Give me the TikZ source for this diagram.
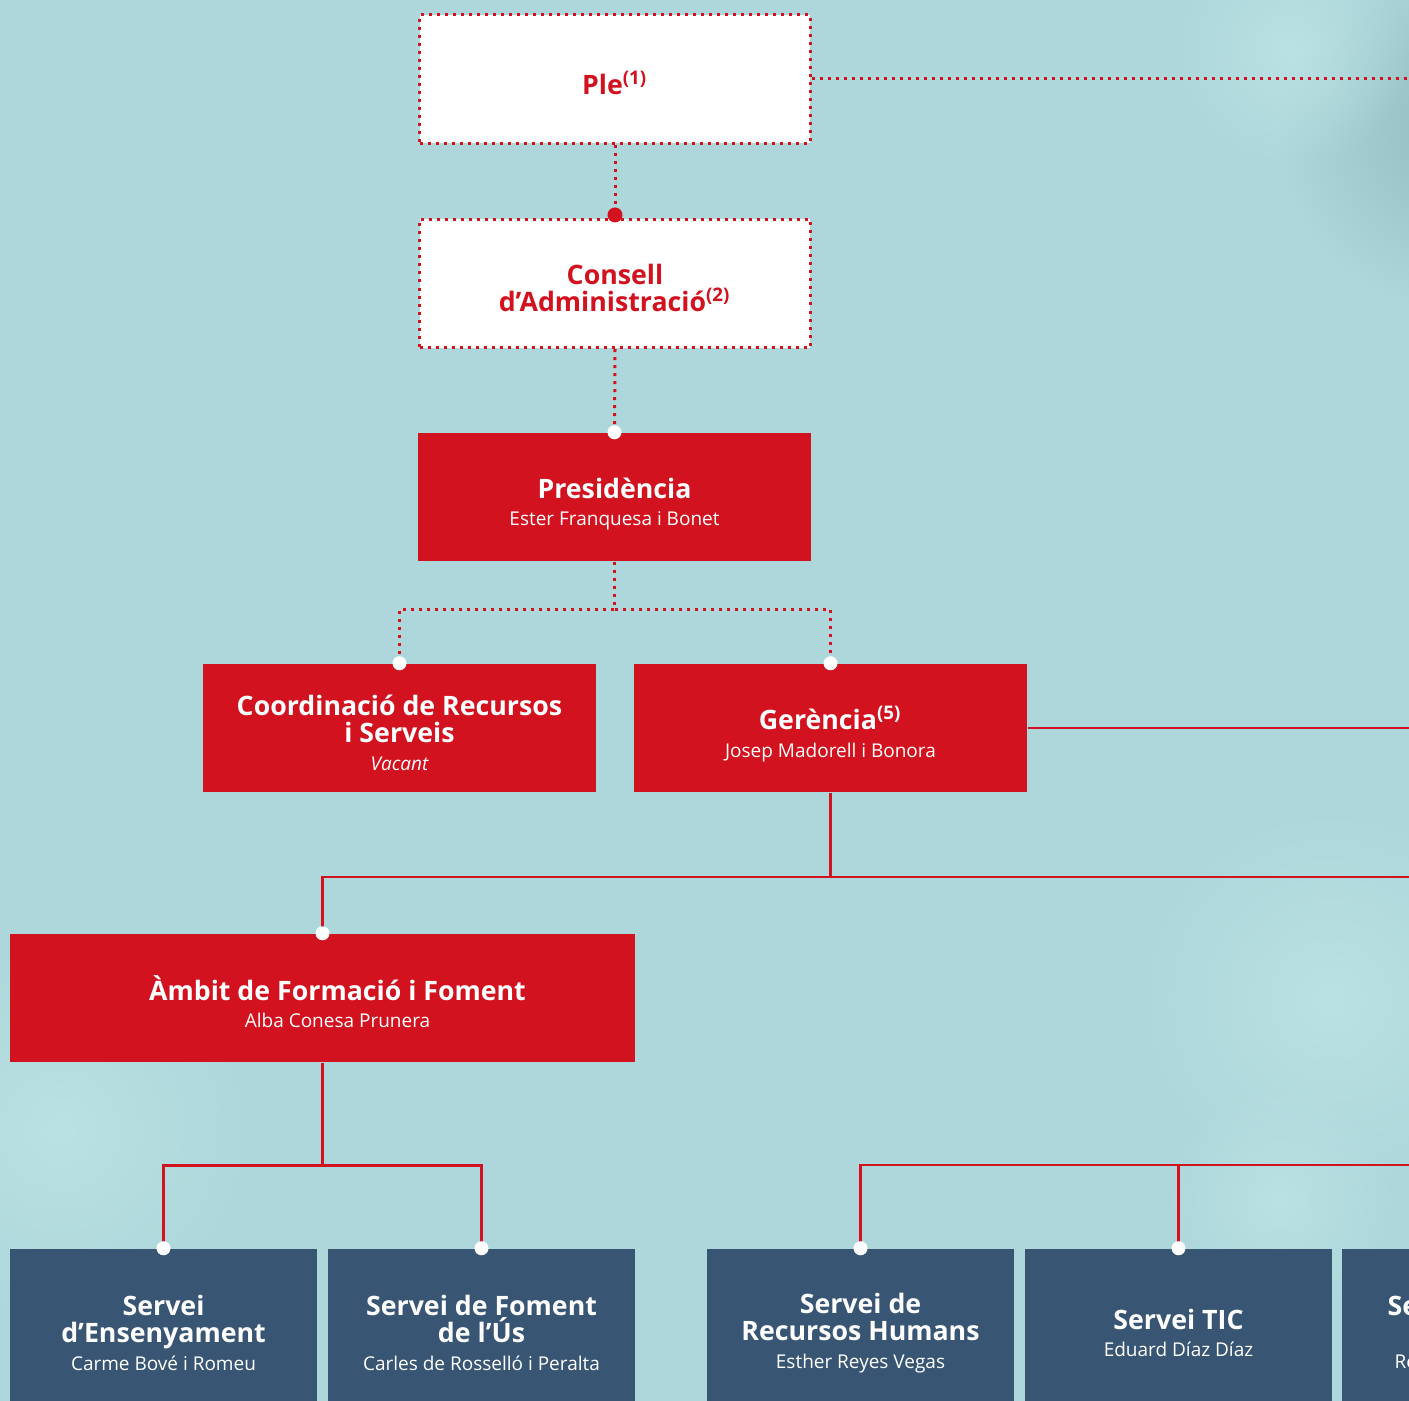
\documentclass[tikz,border=0pt]{standalone}
\usepackage{fontspec}
\setmainfont{Open Sans}
\usetikzlibrary{fadings}
\tikzfading[name=difumina, inner color=transparent!0, outer color=transparent!100]
\definecolor{fons}{RGB}{173,215,219}
\definecolor{fonsclar}{RGB}{186,225,227}
\definecolor{fonsfosc}{RGB}{146,188,191}
\definecolor{vermell}{RGB}{210,18,31}
\definecolor{blaufosc}{RGB}{56,86,116}
\newcommand{\persona}[1]{{\fontsize{5.4pt}{6pt}\selectfont #1}}

\begin{document}
\begin{tikzpicture}[x=0.01cm, y=-0.01cm]
            \useasboundingbox (0,0) rectangle (1409,1401);
            \clip (0,0) rectangle (1409,1401);
            \fill[fons] (0,0) rectangle (1409,1401);
            % fons difuminat
            \fill[fonsfosc, path fading=difumina] (1460,130) circle (1.8cm);
            \fill[fonsclar, path fading=difumina] (1290,50) circle (1.2cm);
            \fill[fonsclar, path fading=difumina] (1330,1000) circle (2cm);
            \fill[fonsclar, path fading=difumina] (1280,1200) circle (1.2cm);
            \fill[fonsclar, path fading=difumina] (60,1130) circle (2cm);

            \begin{scope}[every node/.style = {rectangle, fill=white, draw=vermell, line width=0.03cm,
                    dash pattern=on 0.03cm off 0.05cm, text=vermell, minimum width=3.9cm,
                    minimum height=1.28cm, inner sep=0pt, align=center,
                    font=\fontsize{7.6pt}{7.7pt}\selectfont\bfseries}]
                \node(ple) at (615,79) {Ple\textsuperscript{(1)}\\[-10pt]};
                \node(consell) at (615,283.5) {Consell\\d’Administració\textsuperscript{(2)}\\[-10pt]};
            \end{scope}

            \begin{scope}[every node/.style = {rectangle, fill=vermell, text=white, minimum width=3.93cm,
                    minimum height=1.28cm, inner sep=0pt, align=center,
                    font=\fontsize{7.6pt}{7.7pt}\selectfont}]
                \node(pres) at (614.5,497) {\textbf{Presidència}\\[0.2pt]\persona{Ester Franquesa i Bonet}\\[-10.4pt]};
                \node(coord) at (399.5,728) {\textbf{Coordinació de Recursos}\\\textbf{i Serveis}\\[0.2pt]\persona{\itshape Vacant}\\[-10.5pt]};
                \node(ger) at (830.5,728) {\textbf{Gerència\textsuperscript{(5)}}\\[0.2pt]\persona{Josep Madorell i Bonora}\\[-9.9pt]};
                \node(ambit) at (322.5,998) [minimum width=6.25cm] {\hspace*{0.3cm}\textbf{Àmbit de Formació i Foment}\\[0.2pt]\hspace*{0.3cm}\persona{Alba Conesa Prunera}\\[-9.7pt]};
            \end{scope}

            \begin{scope}[every node/.style = {rectangle, fill=blaufosc, text=white, minimum width=3.07cm,
                    minimum height=1.68cm, inner sep=0pt, align=center,
                    font=\fontsize{7.6pt}{7.7pt}\selectfont}]
                \node(ens) at (163.5,1333) {\textbf{Servei}\\\textbf{d’Ensenyament}\\[0.2pt]\persona{Carme Bové i Romeu}};
                \node(fom) at (481.5,1333) {\textbf{Servei de Foment}\\\textbf{de l’Ús}\\[0.2pt]\persona{Carles de Rosselló i Peralta}};
                \node(rrhh) at (860.5,1333) {\textbf{Servei de}\\\textbf{Recursos Humans}\\[0.2pt]\persona{Esther Reyes Vegas}};
                \node(tic) at (1178.5,1333) {\textbf{Servei TIC}\\[0.2pt]\persona{Eduard Díaz Díaz}};
                \node(ultim) at (1495.5,1333) {};
                \node(ultimtitol) at (1387,1306) [anchor=west, fill=none, minimum width=0pt, minimum height=0pt] {\textbf{Se}};
                \node(ultimnom) at (1394,1362) [anchor=west, fill=none, minimum width=0pt, minimum height=0pt] {\persona{Re}};
            \end{scope}

            \coordinate(pledreta) at (1420,79);
            \coordinate(gerdreta) at (1420,728);
            \coordinate(branca1) at (1420,877);
            \coordinate(branca2) at (1420,1165);

            \begin{scope}[every path/.style = {draw=vermell, line width=0.03cm, dash pattern=on 0.03cm off 0.05cm}]
                \path(ple.south) -- (consell.north);
                \path(ple.east) -- (pledreta);
                \path(consell.south) -- (pres.north);
                \path(pres.south) -- ++(0,48) -| (coord.north);
                \path(pres.south) -- ++(0,48) -| (ger.north);
            \end{scope}

            \begin{scope}[every path/.style = {draw=vermell, line width=0.027cm}]
                \path(ger.east) -- (gerdreta);
                \path(ger.south) -- (ger.south |- branca1);
                \path(ambit.north) |- (branca1);
                \path(ambit.south) -- ++(0,103) -| (ens.north);
                \path(ambit.south) -- ++(0,103) -| (fom.north);
                \path(rrhh.north) |- (branca2);
                \path(tic.north) -- (tic.north |- branca2);
            \end{scope}

            \fill[vermell] (consell.north) ++(0,-3) circle (0.075cm);
            \fill[white] (pres.north) circle (0.07cm);
            \fill[white] (coord.north) circle (0.07cm);
            \fill[white] (ger.north) circle (0.07cm);
            \fill[white] (ambit.north) circle (0.07cm);
            \fill[white] (ens.north) circle (0.07cm);
            \fill[white] (fom.north) circle (0.07cm);
            \fill[white] (rrhh.north) circle (0.07cm);
            \fill[white] (tic.north) circle (0.07cm);
        \end{tikzpicture}
\end{document}
